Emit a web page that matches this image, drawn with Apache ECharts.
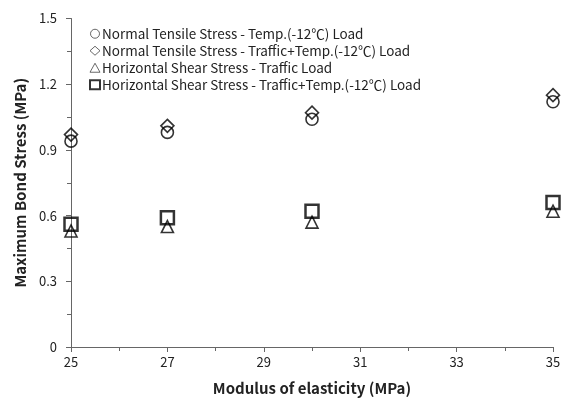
<!DOCTYPE html>
<html>
<head>
<meta charset="utf-8">
<script src="https://cdn.jsdelivr.net/npm/echarts@6/dist/echarts.min.js"></script>
<style>
  html, body { margin: 0; padding: 0; background: #fff; }
  #chart { width: 568px; height: 398px; }
</style>
</head>
<body>
<div id="chart"></div>
<script>
// Modulus of elasticity (MPa) for each case
const modulus = [25, 27, 30, 35];

// Maximum bond stress (MPa) per loading case
const tensileTemp = [0.94, 0.98, 1.04, 1.12];
const tensileTrafficTemp = [0.97, 1.01, 1.07, 1.15];
const shearTraffic = [0.53, 0.55, 0.57, 0.62];
const shearTrafficTemp = [0.56, 0.59, 0.62, 0.66];

const seriesNames = [
  'Normal Tensile Stress - Temp.(-12\u2103) Load',
  'Normal Tensile Stress - Traffic+Temp.(-12\u2103) Load',
  'Horizontal Shear Stress - Traffic Load',
  'Horizontal Shear Stress - Traffic+Temp.(-12\u2103) Load'
];

const FONT = '"Noto Sans CJK KR", "Noto Sans", sans-serif';

function pairs(values) {
  return modulus.map((x, i) => [x, values[i]]);
}

function scatter(name, values, symbol, size, border) {
  return {
    name: name,
    type: 'scatter',
    data: pairs(values),
    symbol: symbol,
    symbolSize: size,
    itemStyle: { color: 'rgba(0,0,0,0)', borderColor: '#000', borderWidth: border },
    emphasis: { disabled: true }
  };
}

const chart = echarts.init(document.getElementById('chart'));
chart.setOption({
  animation: false,
  backgroundColor: '#fff',
  grid: { left: 71, right: 15, top: 18.5, bottom: 51, outerBoundsMode: 'none', containLabel: false },
  legend: {
    orient: 'vertical',
    left: 84,
    top: 22,
    itemGap: 3.5,
    itemWidth: 10,
    itemHeight: 9,
    textStyle: { fontFamily: FONT, fontSize: 13.5, color: '#222', padding: [0, 0, 0, -3] },
    data: [
      { name: seriesNames[0], icon: 'circle', itemStyle: { color: 'rgba(0,0,0,0)', borderColor: '#444', borderWidth: 1 } },
      { name: seriesNames[1], icon: 'diamond', itemStyle: { color: 'rgba(0,0,0,0)', borderColor: '#444', borderWidth: 1 } },
      { name: seriesNames[2], icon: 'triangle', itemStyle: { color: 'rgba(0,0,0,0)', borderColor: '#444', borderWidth: 1 } },
      { name: seriesNames[3], icon: 'rect', itemStyle: { color: 'rgba(0,0,0,0)', borderColor: '#000', borderWidth: 2 } }
    ]
  },
  xAxis: {
    type: 'value',
    min: 25,
    max: 35,
    interval: 2,
    name: 'Modulus of elasticity (MPa)',
    nameLocation: 'middle',
    nameGap: 34,
    nameTextStyle: { fontFamily: FONT, fontSize: 15, fontWeight: 'bold', color: '#222' },
    axisLine: { onZero: false, lineStyle: { color: '#666', width: 1 } },
    axisTick: { length: 5, lineStyle: { color: '#666' } },
    minorTick: { show: true, splitNumber: 2, length: 4, lineStyle: { color: '#666' } },
    axisLabel: { fontFamily: FONT, fontSize: 13, color: '#222', margin: 9 },
    splitLine: { show: false }
  },
  yAxis: {
    type: 'value',
    min: 0,
    max: 1.5,
    interval: 0.3,
    name: 'Maximum Bond Stress (MPa)',
    nameLocation: 'middle',
    nameGap: 43,
    nameTextStyle: { fontFamily: FONT, fontSize: 15, fontWeight: 'bold', color: '#222' },
    axisLine: { show: true, lineStyle: { color: '#666', width: 1 } },
    axisTick: { show: true, length: 5, lineStyle: { color: '#666' } },
    minorTick: { show: true, splitNumber: 2, length: 4, lineStyle: { color: '#666' } },
    axisLabel: { fontFamily: FONT, fontSize: 13, color: '#222', margin: 14 },
    splitLine: { show: false }
  },
  series: [
    scatter(seriesNames[0], tensileTemp, 'circle', 12, 1.6),
    scatter(seriesNames[1], tensileTrafficTemp, 'diamond', 13, 1.6),
    scatter(seriesNames[2], shearTraffic, 'triangle', 12, 1.6),
    scatter(seriesNames[3], shearTrafficTemp, 'rect', 13, 2.5)
  ]
});
</script>
</body>
</html>
